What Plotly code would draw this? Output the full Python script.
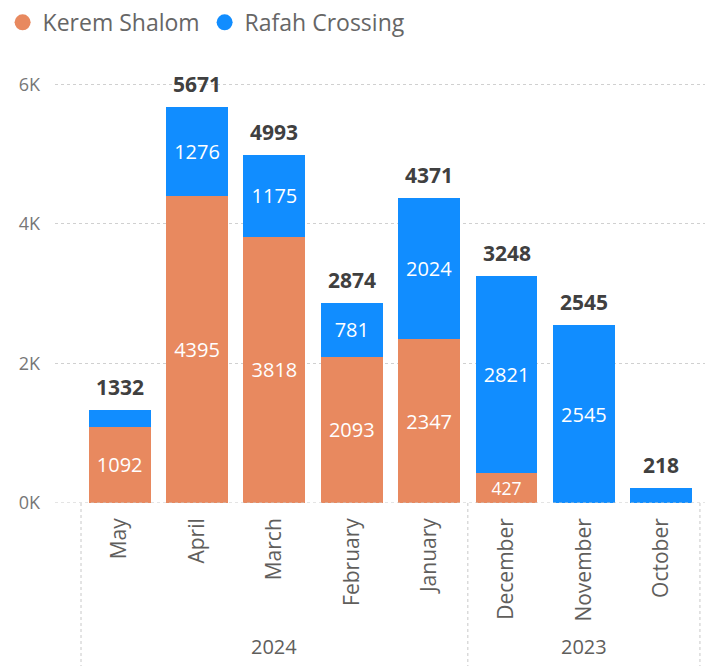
import plotly.graph_objects as go

months = ["May", "April", "March", "February", "January", "December", "November", "October"]
years = ["2024", "2024", "2024", "2024", "2024", "2023", "2023", "2023"]
kerem = [1092, 4395, 3818, 2093, 2347, 427, 0, 0]
rafah = [240, 1276, 1175, 781, 2024, 2821, 2545, 218]
y_ticks = [0, 2000, 4000, 6000]
y_tick_labels = ["0K", "2K", "4K", "6K"]

ORANGE = "#E8895F"
BLUE = "#118DFF"
FONT = "Segoe UI, Open Sans, sans-serif"
TXT = "#605E5C"

totals = [k + r for k, r in zip(kerem, rafah)]

def lbl(v):
    return str(v) if v >= 300 else ""

fig = go.Figure()
fig.add_trace(go.Bar(x=months, y=kerem, marker=dict(color=ORANGE, line=dict(width=0)),
                     showlegend=False,
                     text=[lbl(v) for v in kerem], textposition="inside",
                     insidetextanchor="middle", textangle=0,
                     textfont=dict(color="white", size=20, family=FONT),
                     hoverinfo="skip"))
fig.add_trace(go.Bar(x=months, y=rafah, marker=dict(color=BLUE, line=dict(width=0)),
                     showlegend=False,
                     text=[lbl(v) for v in rafah], textposition="inside",
                     insidetextanchor="middle", textangle=0,
                     textfont=dict(color="white", size=20, family=FONT),
                     hoverinfo="skip"))
# legend entries with circle markers
fig.add_trace(go.Scatter(x=[None], y=[None], mode="markers", name="Kerem Shalom",
                         marker=dict(color=ORANGE, size=17, symbol="circle")))
fig.add_trace(go.Scatter(x=[None], y=[None], mode="markers", name="Rafah Crossing",
                         marker=dict(color=BLUE, size=17, symbol="circle")))

# total labels
for m, t in zip(months, totals):
    fig.add_annotation(x=m, y=t, text=f"<b>{t}</b>", showarrow=False, yanchor="bottom",
                       yshift=7, font=dict(size=21, color="#404040", family=FONT))

# year group labels and dividers
n = len(months)
groups = []
for i, yv in enumerate(years):
    if not groups or groups[-1][0] != yv:
        groups.append([yv, i, i])
    else:
        groups[-1][2] = i
for yv, s, e in groups:
    fig.add_annotation(x=(s + e) / 2, xref="x", y=-0.325, yref="paper", text=yv,
                       showarrow=False, yanchor="middle",
                       font=dict(size=20, color=TXT, family=FONT))
dividers = [-0.5] + [e + 0.5 for _, _, e in groups]
for d in dividers:
    fig.add_shape(type="line", x0=d, x1=d, xref="x", y0=0, y1=-0.4, yref="paper",
                  line=dict(color="#C8C8C8", width=1, dash="dot"))

fig.update_layout(
    width=713, height=666,
    margin=dict(l=47, r=11, t=52, b=171, autoexpand=False),
    barmode="stack", bargap=0.2,
    plot_bgcolor="white", paper_bgcolor="white",
    font=dict(family=FONT, color=TXT),
    legend=dict(orientation="h", x=-0.08, xref="paper", xanchor="left",
                y=1.085, yref="paper", yanchor="middle", traceorder="normal",
                font=dict(size=23, color="#666666"),
                itemsizing="trace", itemwidth=30, entrywidthmode="pixels"),
    xaxis=dict(type="category", categoryorder="array", categoryarray=months,
               tickangle=-90, tickfont=dict(size=21, color=TXT),
               ticklabelstandoff=10, showgrid=False, showline=False,
               range=[-0.836, n - 0.37]),
    yaxis=dict(range=[0, 6350], tickvals=y_ticks, ticktext=y_tick_labels,
               tickfont=dict(size=18, color="#777777"), showgrid=True,
               gridcolor="#D0D0D0", griddash="dot", gridwidth=1,
               zeroline=False, ticklabelstandoff=14),
)
fig.add_hline(y=0, line=dict(color="#C8C8C8", width=1, dash="dot"))
fig.write_html("out.html")
